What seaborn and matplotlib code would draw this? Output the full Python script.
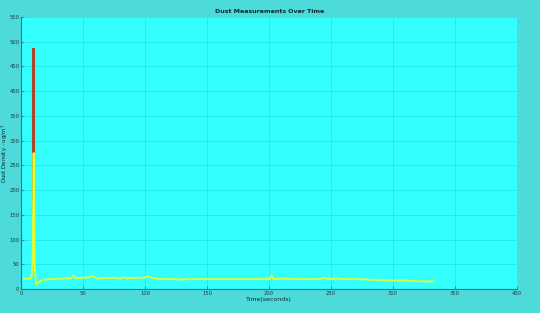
import matplotlib
matplotlib.use("Agg")
import matplotlib.pyplot as plt
import seaborn as sns

# Data
time_s = [2, 4, 6, 8, 9, 9.8, 10.6, 12, 14, 16, 18, 20, 25, 30, 35, 40, 42, 43, 45, 50,
          55, 57, 58, 60, 62, 65, 70, 75, 80, 82, 85, 90, 95, 100, 102, 104, 106, 110,
          115, 120, 125, 130, 135, 140, 150, 160, 170, 180, 190, 200, 202, 203, 205,
          210, 220, 230, 240, 245, 250, 255, 260, 270, 280, 290, 300, 310, 320, 330, 333]
dust_filtered = [21, 20, 21, 22, 60, 275, 40, 10, 14, 16, 18, 19, 20, 21, 21, 22, 28, 23, 22, 23,
                 24, 27, 25, 22, 21, 22, 22, 23, 21, 24, 22, 22, 23, 23, 26, 24, 22, 21,
                 20, 20, 20, 19, 20, 20, 20, 20, 20, 20, 20, 20, 28, 21, 20,
                 21, 20, 20, 20, 22, 20, 21, 20, 20, 19, 18, 17, 17, 16, 15, 16]
spike_time = [9.0, 9.0]
spike_raw = [69, 485]
x_ticks = [0, 50, 100, 150, 200, 250, 300, 350, 400]
y_ticks = [0, 50, 100, 150, 200, 250, 300, 350, 400, 450, 500, 550]

fig = plt.figure(figsize=(5.4, 3.13), dpi=100, facecolor="#4DDADA")
ax = fig.add_axes([0.0398, 0.0767, 0.9172, 0.869])
ax.set_facecolor("#33FFFF")

sns.lineplot(x=spike_time, y=spike_raw, ax=ax, color="#A8482A", linewidth=2.2,
             sort=False, estimator=None, errorbar=None)
sns.lineplot(x=time_s, y=dust_filtered, ax=ax, color="#DAFF3C", linewidth=1.4,
             sort=False, estimator=None, errorbar=None)

ax.set_xlim(0, 400)
ax.set_ylim(0, 550)
ax.set_xticks(x_ticks)
ax.set_yticks(y_ticks)
ax.grid(True, color="#27E6E6", linewidth=0.6)
ax.set_axisbelow(True)

for s in ["top", "right"]:
    ax.spines[s].set_visible(False)
for s in ["left", "bottom"]:
    ax.spines[s].set_color("#147F8C")
    ax.spines[s].set_linewidth(0.8)

ax.tick_params(direction="in", length=2.5, width=0.5, colors="#147F8C",
               labelsize=3.8, labelcolor="#1A3A40", pad=1.5)

ax.set_title("Dust Measurements Over Time", fontsize=4.5, fontweight="bold",
             color="#0A2A30", pad=3)
ax.set_xlabel("Time(seconds)", fontsize=4.5, color="#0A2A30", labelpad=1)
ax.set_ylabel("Dust Density - ug/m$^3$", fontsize=4.0, color="#0A2A30")
ax.yaxis.set_label_coords(-0.023, 0.5)

fig.savefig("out.png", dpi=100, facecolor=fig.get_facecolor())
